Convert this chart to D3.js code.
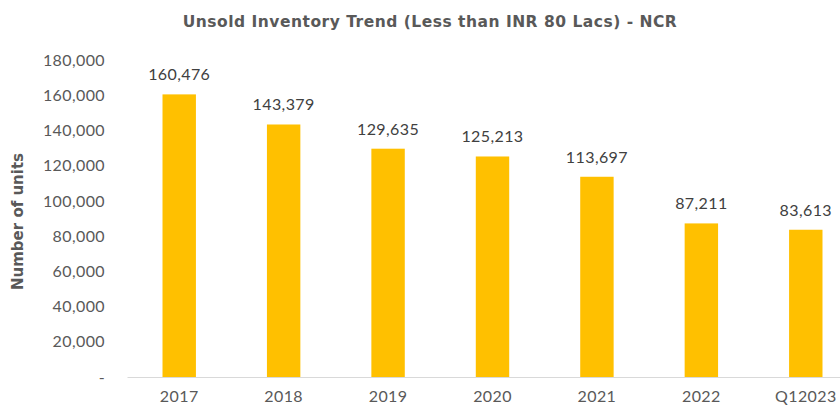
<!DOCTYPE html>
<html>
<head>
<meta charset="utf-8">
<script src="https://cdn.jsdelivr.net/npm/d3@7"></script>
<style>
  body { margin: 0; background: #fff; }
  svg { font-family: "Lato", "Open Sans", sans-serif; }
</style>
</head>
<body>
<svg id="chart"></svg>
<script>
// data
const categories = ["2017", "2018", "2019", "2020", "2021", "2022", "Q12023"];
const units = [160476, 143379, 129635, 125213, 113697, 87211, 83613];
const yTicks = [0, 20000, 40000, 60000, 80000, 100000, 120000, 140000, 160000, 180000];

const width = 840, height = 406;
const margin = { top: 60, right: -18, bottom: 29, left: 127 };

const svg = d3.select("#chart").attr("width", width).attr("height", height);

const x = d3.scaleBand()
  .domain(categories)
  .range([margin.left, width - margin.right])
  .paddingInner(0.68)
  .paddingOuter(0.34);

const y = d3.scaleLinear()
  .domain([0, 180000])
  .range([height - margin.bottom, margin.top]);

const fmt = d3.format(",");

// title
svg.append("text")
  .attr("x", 430)
  .attr("y", 27)
  .attr("text-anchor", "middle")
  .attr("font-family", "'DejaVu Sans', sans-serif")
  .attr("font-size", 15.5)
  .attr("letter-spacing", 0.5)
  .attr("font-weight", "bold")
  .attr("fill", "#595959")
  .text("Unsold Inventory Trend (Less than INR 80 Lacs) - NCR");

// y axis title
svg.append("text")
  .attr("transform", `translate(23,${(margin.top + height - margin.bottom) / 2 + 3}) rotate(-90)`)
  .attr("text-anchor", "middle")
  .attr("font-family", "'DejaVu Sans', sans-serif")
  .attr("font-size", 15)
  .attr("font-weight", "bold")
  .attr("fill", "#595959")
  .text("Number of units");

// y axis labels (no line)
const yAxis = d3.axisLeft(y)
  .tickValues(yTicks)
  .tickSize(0)
  .tickPadding(0)
  .tickFormat(d => d === 0 ? "-" : fmt(d));

svg.append("g")
  .attr("transform", "translate(105,0)")
  .call(yAxis)
  .call(g => g.select(".domain").remove())
  .call(g => g.selectAll("text")
    .attr("font-size", 16)
    .attr("letter-spacing", 0.4)
    .attr("font-family", "Lato, 'Open Sans', sans-serif")
    .attr("fill", "#595959"));

// bars
svg.append("g")
  .selectAll("rect")
  .data(units)
  .join("rect")
  .attr("x", (d, i) => x(categories[i]))
  .attr("y", d => y(d))
  .attr("width", x.bandwidth())
  .attr("height", d => y(0) - y(d))
  .attr("fill", "#FFC000");

// value labels
svg.append("g")
  .selectAll("text")
  .data(units)
  .join("text")
  .attr("x", (d, i) => x(categories[i]) + x.bandwidth() / 2)
  .attr("y", d => y(d) - 14)
  .attr("text-anchor", "middle")
  .attr("font-size", 16)
  .attr("letter-spacing", 0.4)
  .attr("fill", "#404040")
  .text(d => fmt(d));

// x axis
const xAxis = d3.axisBottom(x).tickSize(0).tickPadding(14);
svg.append("g")
  .attr("transform", `translate(0,${y(0)})`)
  .call(xAxis)
  .call(g => g.select(".domain").attr("stroke", "#d9d9d9").attr("stroke-width", 1))
  .call(g => g.selectAll("text")
    .attr("font-size", 16)
    .attr("letter-spacing", 0.4)
    .attr("font-family", "Lato, 'Open Sans', sans-serif")
    .attr("fill", "#595959"));
</script>
</body>
</html>
